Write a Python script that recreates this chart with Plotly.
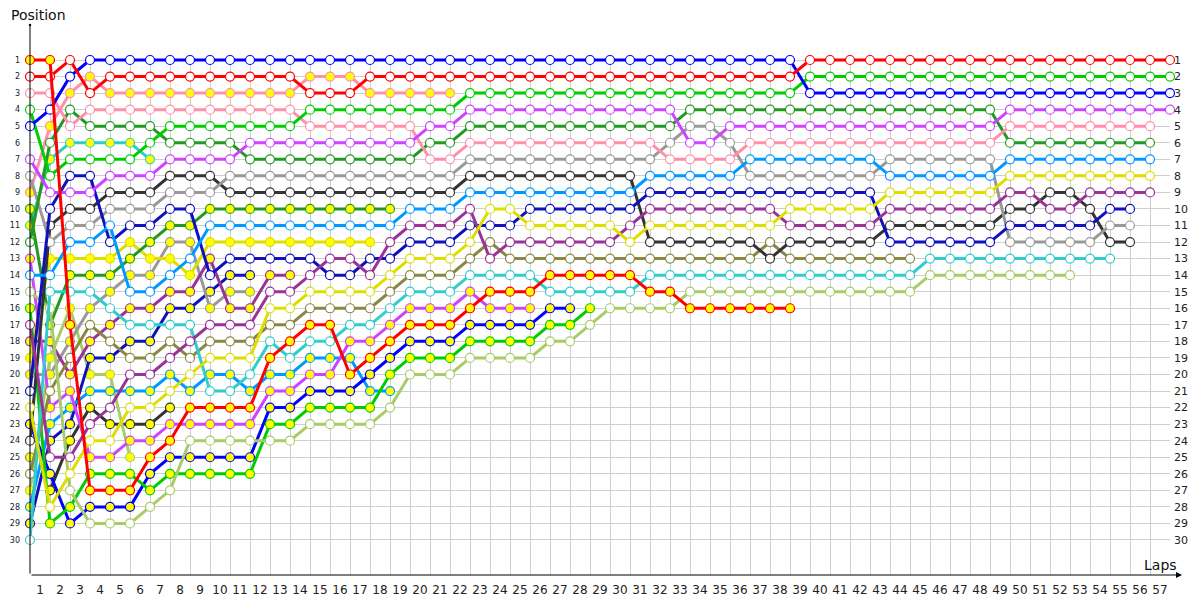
import plotly.graph_objects as go

# race positions per lap, first value is lap 0 (grid) unless noted
red_w = [2, 2, 1, 3, 2, 2, 2, 2, 2, 2, 2, 2, 2, 2, 3, 3, 3, 2, 2, 2,
         2, 2, 2, 2, 2, 2, 2, 2, 2, 2, 2, 2, 2, 2, 2, 2, 2, 2, 2, 1,
         1, 1, 1, 1, 1, 1, 1, 1, 1, 1, 1, 1, 1, 1, 1, 1, 1, 1]
blue_w = [5, 4, 2, 1, 1, 1, 1, 1, 1, 1, 1, 1, 1, 1, 1, 1, 1, 1, 1, 1,
          1, 1, 1, 1, 1, 1, 1, 1, 1, 1, 1, 1, 1, 1, 1, 1, 1, 1, 1, 3,
          3, 3, 3, 3, 3, 3, 3, 3, 3, 3, 3, 3, 3, 3, 3, 3, 3, 3]
green_w = [4, 8, 7, 7, 7, 7, 6, 5, 5, 5, 5, 5, 5, 5, 4, 4, 4, 4, 4, 4,
           4, 4, 3, 3, 3, 3, 3, 3, 3, 3, 3, 3, 3, 3, 3, 3, 3, 3, 3, 2,
           2, 2, 2, 2, 2, 2, 2, 2, 2, 2, 2, 2, 2, 2, 2, 2, 2, 2]
purple_w = [7, 9, 9, 9, 8, 8, 8, 7, 7, 7, 7, 6, 6, 6, 6, 6, 6, 6, 6, 6,
            5, 5, 4, 4, 4, 4, 4, 4, 4, 4, 4, 4, 4, 6, 6, 5, 5, 5, 5, 5,
            5, 5, 5, 5, 5, 5, 5, 5, 5, 4, 4, 4, 4, 4, 4, 4, 4, 4]
pink_w = [3, 3, 5, 4, 4, 4, 4, 4, 4, 4, 4, 4, 4, 4, 5, 5, 5, 5, 5, 5,
          7, 7, 6, 6, 6, 6, 6, 6, 6, 6, 6, 6, 7, 7, 7, 7, 6, 6, 6, 6,
          6, 6, 6, 6, 6, 6, 6, 6, 6, 5, 5, 5, 5, 5, 5, 5, 5]
dgreen_w = [12, 6, 4, 5, 5, 5, 5, 6, 6, 6, 6, 7, 7, 7, 7, 7, 7, 7, 7, 7,
            6, 6, 5, 5, 5, 5, 5, 5, 5, 5, 5, 5, 5, 4, 4, 4, 4, 4, 4, 4,
            4, 4, 4, 4, 4, 4, 4, 4, 4, 6, 6, 6, 6, 6, 6, 6, 6]
dodger_w = [14, 14, 12, 12, 11, 15, 15, 14, 13, 11, 11, 11, 11, 11, 11, 11, 11, 11, 11, 10,
            10, 10, 9, 9, 9, 9, 9, 9, 9, 9, 9, 8, 8, 8, 8, 8, 7, 7, 7, 7,
            7, 7, 7, 8, 8, 8, 8, 8, 8, 7, 7, 7, 7, 7, 7, 7, 7]
yellow_w = [22, 28, 26, 24, 24, 22, 22, 21, 20, 19, 19, 19, 16, 16, 15, 15, 15, 15, 14, 13,
            13, 13, 12, 10, 10, 11, 11, 11, 11, 11, 12, 11, 11, 11, 11, 11, 11, 11, 10, 10,
            10, 10, 10, 9, 9, 9, 9, 9, 9, 8, 8, 8, 8, 8, 8, 8, 8]
dpurple_w = [17, 25, 25, 23, 22, 20, 20, 19, 18, 17, 17, 17, 15, 15, 14, 13, 13, 14, 12, 11,
             11, 11, 10, 13, 12, 12, 12, 12, 12, 12, 11, 10, 10, 10, 10, 10, 10, 10, 11, 11,
             11, 11, 11, 10, 10, 10, 10, 10, 10, 9, 9, 10, 10, 9, 9, 9, 9]
navy_w = [21, 10, 8, 8, 12, 11, 11, 10, 10, 14, 13, 13, 13, 13, 13, 14, 14, 13, 13, 12,
          12, 12, 11, 11, 11, 10, 10, 10, 10, 10, 10, 9, 9, 9, 9, 9, 9, 9, 9, 9,
          9, 9, 9, 12, 12, 12, 12, 12, 12, 11, 11, 11, 11, 11, 10, 10]
gray_w = [8, 12, 11, 11, 10, 10, 10, 9, 9, 9, 8, 8, 8, 8, 8, 8, 8, 8, 8, 8,
          8, 8, 7, 7, 7, 7, 7, 7, 7, 7, 7, 7, 6, 5, 5, 6, 8, 8, 8, 8,
          8, 8, 8, 7, 7, 7, 7, 7, 7, 12, 12, 12, 12, 12, 11, 11]
dgray_w = [24, 11, 10, 10, 9, 9, 9, 8, 8, 8, 9, 9, 9, 9, 9, 9, 9, 9, 9, 9,
           9, 9, 8, 8, 8, 8, 8, 8, 8, 8, 8, 12, 12, 12, 12, 12, 12, 13, 12, 12,
           12, 12, 12, 11, 11, 11, 11, 11, 11, 10, 10, 9, 9, 10, 12, 12]
cyan_w = [30, 15, 15, 15, 16, 17, 17, 17, 17, 21, 21, 20, 18, 19, 18, 18, 17, 17, 16, 15,
          15, 15, 14, 14, 14, 14, 15, 15, 15, 15, 15, 14, 14, 14, 14, 14, 14, 14, 14, 14,
          14, 14, 14, 14, 14, 13, 13, 13, 13, 13, 13, 13, 13, 13, 13]
ygreen_w = [15, 16, 27, 29, 29, 29, 28, 27, 24, 24, 24, 24, 24, 24, 23, 23, 23, 23, 22, 20,
            20, 20, 19, 19, 19, 19, 18, 18, 17, 16, 16, 16, 16, 15, 15, 15, 15, 15, 15, 15,
            15, 15, 15, 15, 15, 14, 14, 14, 14, 14, 14, 14, 14]
olive_w = [26, 21, 19, 17, 18, 19, 19, 18, 19, 18, 18, 18, 17, 17, 16, 16, 16, 16, 15, 14,
           14, 14, 13, 12, 13, 13, 13, 13, 13, 13, 13, 13, 13, 13, 13, 13, 13, 12, 13, 13,
           13, 13, 13, 13, 13]

red_y = [1, 1, 17, 27, 27, 27, 25, 24, 22, 22, 22, 22, 19, 18, 17, 17, 20, 19, 18, 17,
         17, 17, 16, 15, 15, 15, 14, 14, 14, 14, 14, 15, 15, 16, 16, 16, 16, 16, 16]
pink_y = [9, 5, 3, 2, 3, 3, 3, 3, 3, 3, 3, 3, 3, 3, 2, 2, 2, 3, 3, 3, 3, 3]
dgreen_y = [10, 17, 14, 14, 14, 13, 12, 11, 11, 10, 10, 10, 10, 10, 10, 10, 10, 10, 10]
cyan_y = [11, 7, 6, 6, 6, 6, 7]
yellow_y = [19, 13, 13, 13, 13, 12, 13, 13, 14, 12, 12, 12, 12, 12, 12, 12, 12, 12]
dodger_y = [28, 23, 22, 21, 21, 21, 21, 20, 21, 20, 20, 21, 20, 20, 19, 19, 19, 21, 21]
purple_y = [13, 22, 21, 25, 25, 24, 24, 23, 23, 23, 23, 23, 21, 21, 20, 20, 18, 18, 17, 16,
            16, 16, 15, 16, 16, 16]
blue_y = [23, 26, 29, 28, 28, 28, 26, 25, 25, 25, 25, 25, 22, 22, 21, 21, 21, 20, 19, 18,
          18, 18, 17, 17, 17, 17, 16, 16]
green_y = [16, 29, 28, 26, 26, 26, 27, 26, 26, 26, 26, 26, 23, 23, 22, 22, 22, 22, 20, 19,
           19, 19, 18, 18, 18, 18, 17, 17, 16]
ygreen_y = [27, 19, 16, 20, 20, 25]
navy_y = [29, 24, 23, 19, 19, 18, 18, 16, 16, 15, 14, 14]
gray_y = [20, 20, 18, 16, 15, 14, 14, 12, 12, 16, 15, 15]
dgray_y = [27, 24, 22, 23, 23, 23, 22]  # from lap 1
dpurple_y = [18, 18, 20, 18, 17, 16, 16, 15, 15, 13, 16, 16, 14, 14]
olive_y = [25]

positions = list(range(1, 31))
lap_numbers = list(range(0, 58))

# (series, first lap, line colour, marker fill)
drivers = [
    (dgray_y, 1, "#333333", "#ffff00"),
    (olive_y, 0, "#888844", "#ffff00"),
    (ygreen_y, 0, "#a8cc66", "#ffff00"),
    (cyan_y, 0, "#33cccc", "#ffff00"),
    (navy_y, 0, "#1111bb", "#ffff00"),
    (gray_y, 0, "#999999", "#ffff00"),
    (dpurple_y, 0, "#993399", "#ffff00"),
    (yellow_y, 0, "#dddd00", "#ffff00"),
    (dgreen_y, 0, "#229922", "#ffff00"),
    (dodger_y, 0, "#0099ff", "#ffff00"),
    (purple_y, 0, "#cc44ff", "#ffff00"),
    (blue_y, 0, "#0000ff", "#ffff00"),
    (green_y, 0, "#00cc00", "#ffff00"),
    (pink_y, 0, "#ff8fab", "#ffff00"),
    (olive_w, 0, "#888844", "white"),
    (ygreen_w, 0, "#a8cc66", "white"),
    (cyan_w, 0, "#33cccc", "white"),
    (dgray_w, 0, "#333333", "white"),
    (gray_w, 0, "#999999", "white"),
    (navy_w, 0, "#1111bb", "white"),
    (dpurple_w, 0, "#993399", "white"),
    (yellow_w, 0, "#dddd00", "white"),
    (dodger_w, 0, "#0099ff", "white"),
    (dgreen_w, 0, "#229922", "white"),
    (pink_w, 0, "#ff8fab", "white"),
    (purple_w, 0, "#cc44ff", "white"),
    (green_w, 0, "#00cc00", "white"),
    (blue_w, 0, "#0000ff", "white"),
    (red_w, 0, "#ff0000", "white"),
    (red_y, 0, "#ff0000", "#ffff00"),
]

fig = go.Figure()
for pos, start, col, fill in drivers:
    fig.add_trace(go.Scatter(
        x=list(range(start, start + len(pos))), y=pos,
        mode="lines+markers", cliponaxis=False, hoverinfo="skip",
        line=dict(color=col, width=3),
        marker=dict(size=9, color=fill, line=dict(color=col, width=1.2)),
    ))

# invisible trace so the right-hand position axis is drawn
fig.add_trace(go.Scatter(x=[0], y=[1], yaxis="y2", mode="markers",
                         marker=dict(opacity=0), hoverinfo="skip"))

font = "DejaVu Sans"
yr = [32.115, 0.698]
# the page body adds an 8px offset, margins compensate for it
fig.update_layout(
    template="none",
    width=1200, height=600,
    margin=dict(l=22, r=38, t=47, b=33, pad=0),
    paper_bgcolor="white", plot_bgcolor="white",
    showlegend=False, hovermode=False,
    font=dict(family=font, color="#222222"),
    xaxis=dict(range=[0, 57], tickvals=lap_numbers, automargin=False,
               ticktext=[""] + [str(v) for v in lap_numbers[1:]],
               ticklabelshift=-10, ticklabelstandoff=6,
               showgrid=True, gridcolor="#cfcfcf", gridwidth=1,
               zeroline=False, showline=False, ticks="",
               tickfont=dict(size=12, family=font, color="#222222")),
    yaxis=dict(range=yr, tickvals=positions, automargin=False,
               showgrid=True, gridcolor="#cfcfcf",
               gridwidth=1, zeroline=False, showline=False, ticks="",
               ticklabelstandoff=9,
               tickfont=dict(size=8, family=font, color="#222222")),
    yaxis2=dict(range=yr, overlaying="y", side="right", tickvals=positions,
                automargin=False,
                showgrid=False, zeroline=False, showline=False, ticks="",
                ticklabelstandoff=3,
                tickfont=dict(size=11, family=font, color="#222222")),
)

# axis lines drawn as arrows
fig.add_annotation(x=0, y=(575 - 25) / 520, xref="paper", yref="paper",
                   ax=0, ay=550, text="", showarrow=True, arrowhead=6,
                   arrowsize=0.6, arrowwidth=1, arrowcolor="black", standoff=0)
fig.add_annotation(x=(1182 - 30) / 1140, y=0, xref="paper", yref="paper",
                   ax=-1152, ay=0, text="", showarrow=True, arrowhead=2,
                   arrowsize=1.2, arrowwidth=1, arrowcolor="black", standoff=0)
fig.add_annotation(x=(9 - 30) / 1140, y=(575 - 15) / 520, xref="paper", yref="paper",
                   text="Position", showarrow=False, xanchor="left", yanchor="middle",
                   font=dict(size=14, family=font, color="#111111"))
fig.add_annotation(x=(1160 - 30) / 1140, y=(575 - 565) / 520, xref="paper", yref="paper",
                   text="Laps", showarrow=False, xanchor="center", yanchor="middle",
                   font=dict(size=14, family=font, color="#111111"))

fig.write_html("out.html")
